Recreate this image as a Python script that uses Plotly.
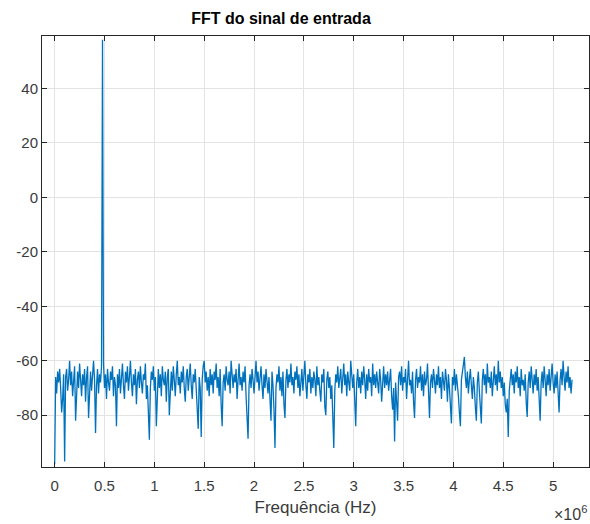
import numpy as np
import plotly.graph_objects as go

# Spectrum magnitude (dB) of the input signal, one bin every 10 kHz
FREQ_STEP_HZ = 10e3
magnitude_db = [
    -98, -66, -72, -64, -68, -63, -70, -79, -74, -65, -97, -66, -63, -71, -67, -60, -69, -64, -73, -66,
    -62, -82, -68, -64, -70, -61, -67, -73, -65, -69, -63, -75, -66, -62, -81, -68, -64, -71, -66, -60,
    -67, -86.5, -69, -63, -72, -65, -68, -62, 57.8, -61, -70, -65, -74, -63, -68, -71, -64, -67, -62, -73,
    -66, -69, -84, -65, -70, -63, -72, -67, -61, -69, -74, -64, -68, -62, -71, -66, -60, -68, -73, -65,
    -69, -63, -76, -67, -64, -70, -62, -68, -72, -65, -67, -61, -74, -69, -77, -89, -70, -64, -67, -62,
    -71, -66, -84, -68, -63, -70, -65, -73, -62, -67, -69, -64, -75, -66, -63, -80, -68, -64, -71, -62,
    -67, -73, -65, -60, -69, -66, -72, -64, -68, -62, -70, -75, -66, -63, -71, -67, -61, -69, -74, -65,
    -68, -63, -72, -77, -85, -66, -70, -88, -67, -62, -60, -68, -64, -71, -66, -73, -63, -69, -65, -72,
    -64, -67, -61, -70, -66, -73, -63, -76, -84, -68, -65, -71, -62, -67, -69, -64, -72, -60, -66, -70,
    -65, -68, -63, -74, -67, -61, -69, -66, -71, -64, -68, -62, -73, -79, -88.6, -69, -65, -70, -63, -67,
    -72, -66, -60, -68, -64, -71, -67, -62, -69, -74, -65, -70, -63, -67, -72, -66, -75, -82, -64, -69,
    -78, -92, -70, -65, -68, -62, -71, -66, -73, -64, -76, -81, -67, -63, -70, -65, -68, -61, -69, -66,
    -72, -64, -67, -62, -70, -65, -73, -68, -63, -71, -66, -60, -69, -74, -65, -68, -63, -72, -66, -70,
    -64, -67, -73, -62, -69, -66, -71, -75, -65, -68, -63, -77, -80, -67, -64, -70, -66, -74, -69, -78,
    -92, -71, -65, -68, -62, -70, -66, -63, -72, -67, -61, -69, -65, -73, -64, -68, -71, -60, -67, -70,
    -65, -76, -84, -68, -63, -70, -66, -72, -64, -69, -62, -67, -74, -65, -71, -63, -68, -66, -73, -61,
    -69, -65, -70, -64, -68, -72, -63, -67, -75, -66, -62, -70, -65, -69, -64, -71, -67, -63, -73, -78,
    -70, -89.6, -68, -76, -82, -66, -64, -69, -62, -71, -66, -68, -63, -74, -65, -60, -69, -67, -72, -64,
    -75, -81, -67, -63, -70, -66, -68, -62, -71, -65, -73, -64, -69, -67, -61, -74, -81, -68, -65, -70,
    -63, -67, -72, -65, -69, -62, -70, -66, -74, -64, -68, -71, -63, -67, -75, -65, -70, -78, -83, -66,
    -69, -63, -71, -65, -68, -73, -79, -84, -67, -64, -62, -58.6, -66, -70, -64, -72, -67, -63, -69, -74,
    -66, -70, -77, -82, -68, -64, -71, -76, -83, -67, -63, -69, -65, -72, -61, -68, -66, -70, -64, -73,
    -67, -62, -69, -65, -71, -60, -68, -64, -70, -66, -73, -68, -76, -79, -74, -88, -71, -66, -63, -69,
    -65, -72, -64, -68, -62, -70, -66, -73, -63, -69, -67, -71, -65, -75, -80.6, -68, -64, -70, -62, -67,
    -72, -65, -69, -63, -71, -66, -76, -82, -68, -64, -70, -62, -67, -73, -65, -69, -63, -71, -66, -61,
    -68, -72, -65, -70, -64, -74, -79, -67, -63, -69, -60, -66, -71, -64, -68, -62, -70, -66, -72, -67,
]
frequency_hz = np.arange(len(magnitude_db)) * FREQ_STEP_HZ

x_tick_vals = [0, 0.5e6, 1e6, 1.5e6, 2e6, 2.5e6, 3e6, 3.5e6, 4e6, 4.5e6, 5e6]
x_tick_text = ["0", "0.5", "1", "1.5", "2", "2.5", "3", "3.5", "4", "4.5", "5"]
y_tick_vals = [-80, -60, -40, -20, 0, 20, 40]
y_tick_text = ["-80", "-60", "-40", "-20", "0", "20", "40"]

FONT = "Liberation Sans, Arial, sans-serif"
AXIS_COLOR = "#262626"
LABEL_COLOR = "#3a3a3a"
GRID_COLOR = "#e3e3e3"

fig = go.Figure()
fig.add_trace(go.Scatter(
    x=frequency_hz, y=magnitude_db, mode="lines",
    line=dict(color="#0072BD", width=1.3),
    showlegend=False, hoverinfo="skip",
))

axis_common = dict(
    showline=True, linecolor=AXIS_COLOR, linewidth=1, mirror="ticks",
    ticks="inside", ticklen=5, tickcolor=AXIS_COLOR, tickwidth=1,
    showgrid=True, gridcolor=GRID_COLOR, gridwidth=1, zeroline=False,
    tickfont=dict(family=FONT, size=15, color=LABEL_COLOR),
)

fig.update_xaxes(
    range=[-0.127e6, 5.36e6], tickvals=x_tick_vals, ticktext=x_tick_text,
    ticklabelstandoff=5,
    title=dict(text="Frequência (Hz)", font=dict(family=FONT, size=17, color=LABEL_COLOR),
               standoff=8),
    **axis_common,
)
fig.update_yaxes(range=[-99, 59.2], tickvals=y_tick_vals, ticktext=y_tick_text, **axis_common)

fig.update_layout(
    width=590, height=524,
    margin=dict(l=42, r=1, t=36, b=57),
    paper_bgcolor="white", plot_bgcolor="white",
    title=dict(text="<b>FFT do sinal de entrada</b>", x=281 / 590, xanchor="center",
               xref="container", y=1 - 18 / 524, yanchor="middle", yref="container",
               font=dict(family=FONT, size=16, color="#000000")),
    annotations=[dict(text="×10<sup>6</sup>", xref="paper", yref="paper",
                      x=1.0, y=-0.078, xanchor="right", yanchor="top", showarrow=False,
                      font=dict(family=FONT, size=16, color=LABEL_COLOR))],
)

fig.write_html("out.html")
